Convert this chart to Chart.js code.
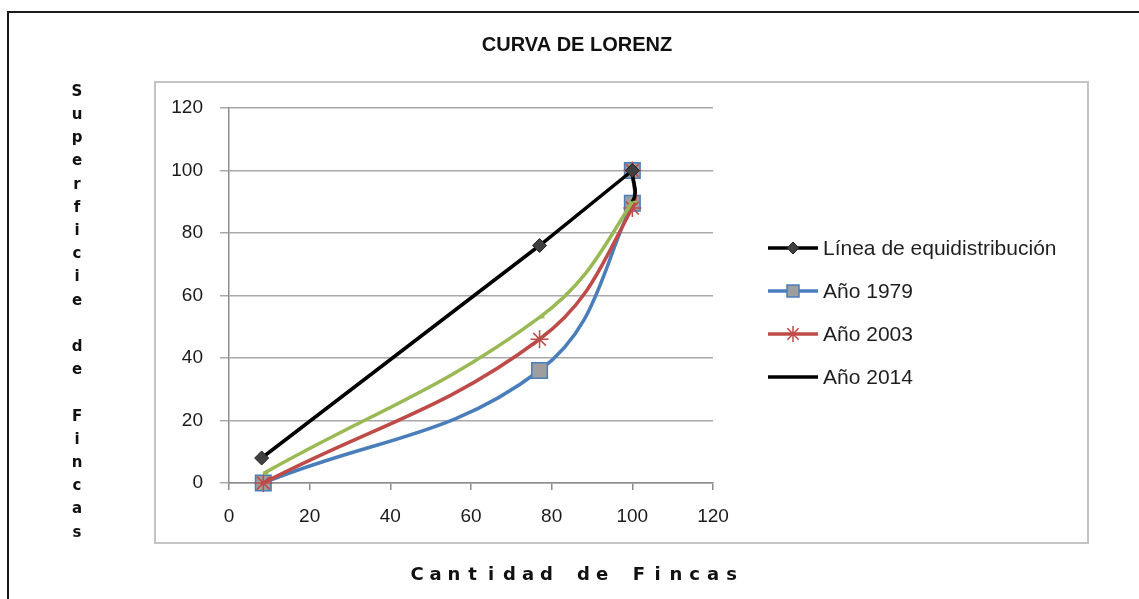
<!DOCTYPE html>
<html lang="es">
<head>
<meta charset="utf-8">
<title>Curva de Lorenz</title>
<script src="https://cdn.jsdelivr.net/npm/chart.js@4.4.1/dist/chart.umd.min.js"></script>
<style>
  html, body { margin: 0; padding: 0; background: #fff; }
  #wrap { position: relative; width: 1139px; height: 599px; }
</style>
</head>
<body>
<div id="wrap"><canvas id="chart-lorenz"></canvas></div>
<script>
// datos
const seriesNames = ["Línea de equidistribución", "Año 1979", "Año 2003", "Año 2014"];

const xEquidistribucion = [8.1, 77, 100];
const yEquidistribucion = [8, 76, 100];

const x1979 = [8.5, 77, 100, 100];
const y1979 = [0, 36, 89.5, 100];

const x2003 = [8.5, 77, 100, 100];
const y2003 = [0, 46, 88, 100];

const x2014 = [8.5, 77, 100, 100];
const y2014 = [3, 53, 90, 100];

const axisMin = 0;
const axisMax = 120;
const axisStep = 20;

const yAxisTitle = "Superficie de Fincas";
const xAxisTitle = "Cantidad de Fincas";

const BLUE = "#4A7EBB";
const RED = "#BE4B48";
const GREEN = "#98B954";
const BLACK = "#000000";

function toPoints(xs, ys) {
  return xs.map((x, i) => ({ x: x, y: ys[i] }));
}

// marco exterior (negro) y marco del grafico (gris)
const framePlugin = {
  id: "frame",
  beforeDraw(chart) {
    const c = chart.ctx;
    c.save();
    c.strokeStyle = "#1a1a1a";
    c.lineWidth = 2;
    c.beginPath();
    c.moveTo(8, 599);
    c.lineTo(8, 12);
    c.lineTo(1139, 12);
    c.stroke();
    c.strokeStyle = "#c4c4c4";
    c.lineWidth = 2;
    c.strokeRect(155, 82, 933, 461);
    c.restore();
  },
};

// titulos de ejes con letras separadas, como en el original
const axisTitlesPlugin = {
  id: "axisTitles",
  afterDraw(chart) {
    const c = chart.ctx;
    c.save();
    c.fillStyle = "#111";
    c.textAlign = "center";
    c.textBaseline = "middle";
    c.font = "bold 15px 'DejaVu Sans'";
    yAxisTitle.split("").forEach((ch, i) => {
      if (ch !== " ") c.fillText(ch, 77, 92 + i * 23.2);
    });
    c.font = "bold 18px 'DejaVu Sans'";
    xAxisTitle.split("").forEach((ch, i) => {
      if (ch !== " ") c.fillText(ch, 417 + i * 18.5, 575);
    });
    c.restore();
  },
};

// leyenda al estilo Excel: linea con marcador en el centro
const legendPlugin = {
  id: "excelLegend",
  afterDraw(chart) {
    const c = chart.ctx;
    chart.data.datasets.forEach((ds, i) => {
      const y = 248 + i * 43;
      c.save();
      c.strokeStyle = ds.borderColor;
      c.lineWidth = 3.5;
      c.beginPath();
      c.moveTo(768, y);
      c.lineTo(818, y);
      c.stroke();
      if (ds.legendRadius > 0) {
        c.fillStyle = ds.pointBackgroundColor;
        c.strokeStyle = ds.legendMarkerColor;
        c.lineWidth = ds.pointBorderWidth;
        Chart.helpers.drawPoint(c, { pointStyle: ds.pointStyle, radius: ds.legendRadius, rotation: 0, borderWidth: ds.pointBorderWidth }, 793, y);
      }
      c.fillStyle = "#1f1f1f";
      c.font = "21px 'Liberation Sans'";
      c.textAlign = "left";
      c.textBaseline = "middle";
      c.fillText(ds.label, 823, y + 1);
      c.restore();
    });
  },
};

document.addEventListener("DOMContentLoaded", function () {
  const ctx = document.getElementById("chart-lorenz").getContext("2d");

  const tickFont = { family: "Liberation Sans", size: 19 };

  const chart = new Chart(ctx, {
    type: "line",
    data: {
      datasets: [
        {
          label: seriesNames[0],
          data: toPoints(xEquidistribucion, yEquidistribucion),
          borderColor: BLACK,
          borderWidth: 3.5,
          pointStyle: "rectRot",
          pointRadius: 7,
          pointBackgroundColor: "#404040",
          pointBorderColor: "#222",
          pointBorderWidth: 1,
          legendRadius: 6,
          legendMarkerColor: "#222",
          tension: 0,
          order: 1,
        },
        {
          label: seriesNames[1],
          data: toPoints(x1979, y1979),
          borderColor: BLUE,
          borderWidth: 3.5,
          pointStyle: "rect",
          pointRadius: 11,
          pointBackgroundColor: "#9e9e9e",
          pointBorderColor: BLUE,
          pointBorderWidth: 1.5,
          legendRadius: 8.5,
          legendMarkerColor: BLUE,
          tension: 0.4,
          order: 4,
        },
        {
          label: seriesNames[2],
          data: toPoints(x2003, y2003),
          borderColor: RED,
          borderWidth: 3.5,
          pointStyle: "star",
          pointRadius: 9,
          pointBackgroundColor: RED,
          pointBorderColor: RED,
          pointBorderWidth: 1.5,
          legendRadius: 8,
          legendMarkerColor: RED,
          tension: 0.4,
          order: 3,
        },
        {
          label: seriesNames[3],
          data: toPoints(x2014, y2014),
          borderColor: BLACK, // en la leyenda aparece negra
          borderWidth: 3.5,
          pointStyle: "dash",
          pointRadius: 5,
          pointBackgroundColor: GREEN,
          pointBorderColor: [GREEN, GREEN, GREEN, BLACK],
          pointBorderWidth: 2,
          legendRadius: 0,
          legendMarkerColor: BLACK,
          tension: 0.4,
          order: 2,
          segment: {
            borderColor: (s) => (s.p0DataIndex < 2 ? GREEN : undefined),
          },
        },
      ],
    },
    options: {
      responsive: true,
      maintainAspectRatio: false,
      animation: false,
      clip: false,
      layout: {
        padding: { left: 20, right: 5, top: 0, bottom: 0 },
      },
      plugins: {
        legend: { display: false },
        tooltip: { enabled: false },
        title: {
          display: true,
          text: "CURVA DE LORENZ",
          color: "#111",
          font: { family: "Liberation Sans", size: 20, weight: "bold" },
          padding: { top: 33, bottom: 51 },
        },
      },
      scales: {
        x: {
          type: "linear",
          min: axisMin,
          max: axisMax,
          ticks: { stepSize: axisStep, color: "#1a1a1a", font: tickFont, padding: 15 },
          grid: { drawOnChartArea: false, drawTicks: true, tickLength: 7, color: "#8c8c8c", lineWidth: 1.5 },
          border: { color: "#8c8c8c", width: 1.5 },
          afterFit: (s) => { s.height = 116; },
        },
        y: {
          min: axisMin,
          max: axisMax,
          ticks: { stepSize: axisStep, color: "#1a1a1a", font: tickFont, padding: 17 },
          grid: { color: "#a8a8a8", lineWidth: 1.5, tickLength: 9 },
          border: { color: "#8c8c8c", width: 1.5 },
          afterFit: (s) => { s.width = 209; },
        },
        // eje vacio que reserva el espacio de la leyenda
        spacer: {
          type: "linear",
          position: "right",
          display: true,
          ticks: { display: false },
          grid: { display: false },
          border: { display: false },
          afterFit: (s) => { s.width = 421; },
        },
      },
    },
    plugins: [framePlugin, axisTitlesPlugin, legendPlugin],
  });
});
</script>
</body>
</html>
